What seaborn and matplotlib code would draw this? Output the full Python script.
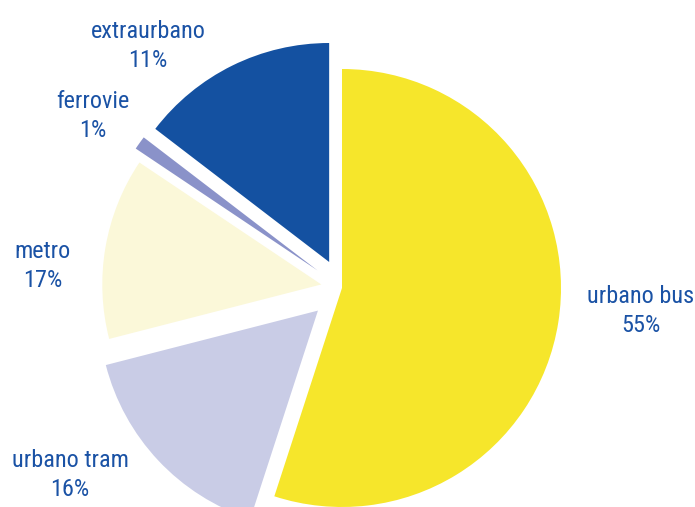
import matplotlib
matplotlib.use("Agg")
import matplotlib.pyplot as plt
from matplotlib import font_manager
import seaborn as sns

# ── data ──────────────────────────────────────────────────────────────────────
categories = ["urbano bus", "urbano tram", "metro", "ferrovie", "extraurbano"]
shares     = [55.0, 16.0, 13.4, 1.0, 14.6]          # slice sizes
pct_labels = ["55%", "16%", "17%", "1%", "11%"]      # percentages as printed

colors  = ["#F6E62B", "#C9CCE6", "#FBF8D9", "#8A92C9", "#1451A1"]
explode = [0, 33, 21, 30, 29]                        # offsets in pixels (data units)

# label anchor points in pixels (x from left, y from top)
label_pos = [(641, 311), (70, 475), (43, 266), (93, 116), (148, 46)]

sns.set_theme(style="white")

family = "DejaVu Sans"
for cand in ["Liberation Sans Narrow", "Roboto Condensed", "Noto Sans"]:
    try:
        font_manager.findfont(cand, fallback_to_default=False)
        family = cand
        break
    except Exception:
        continue
plt.rcParams["font.family"] = [family, "DejaVu Sans"]

W, H = 695, 507
fig = plt.figure(figsize=(W / 100, H / 100), dpi=100)
ax = fig.add_axes([0, 0, 1, 1])

cx, cy, r = 342, H - 288, 219
ax.pie(shares, colors=colors, explode=explode, startangle=90,
       counterclock=False, center=(cx, cy), radius=r,
       wedgeprops=dict(linewidth=0))

for (x, y), name, pct in zip(label_pos, categories, pct_labels):
    ax.text(x, H - y, f"{name}\n{pct}", ha="center", va="center",
            fontsize=17.5, color="#1A52A5", linespacing=1.3)

ax.set_xlim(0, W)
ax.set_ylim(0, H)
ax.set_aspect("equal")
ax.axis("off")

fig.savefig("out.png", dpi=100)
